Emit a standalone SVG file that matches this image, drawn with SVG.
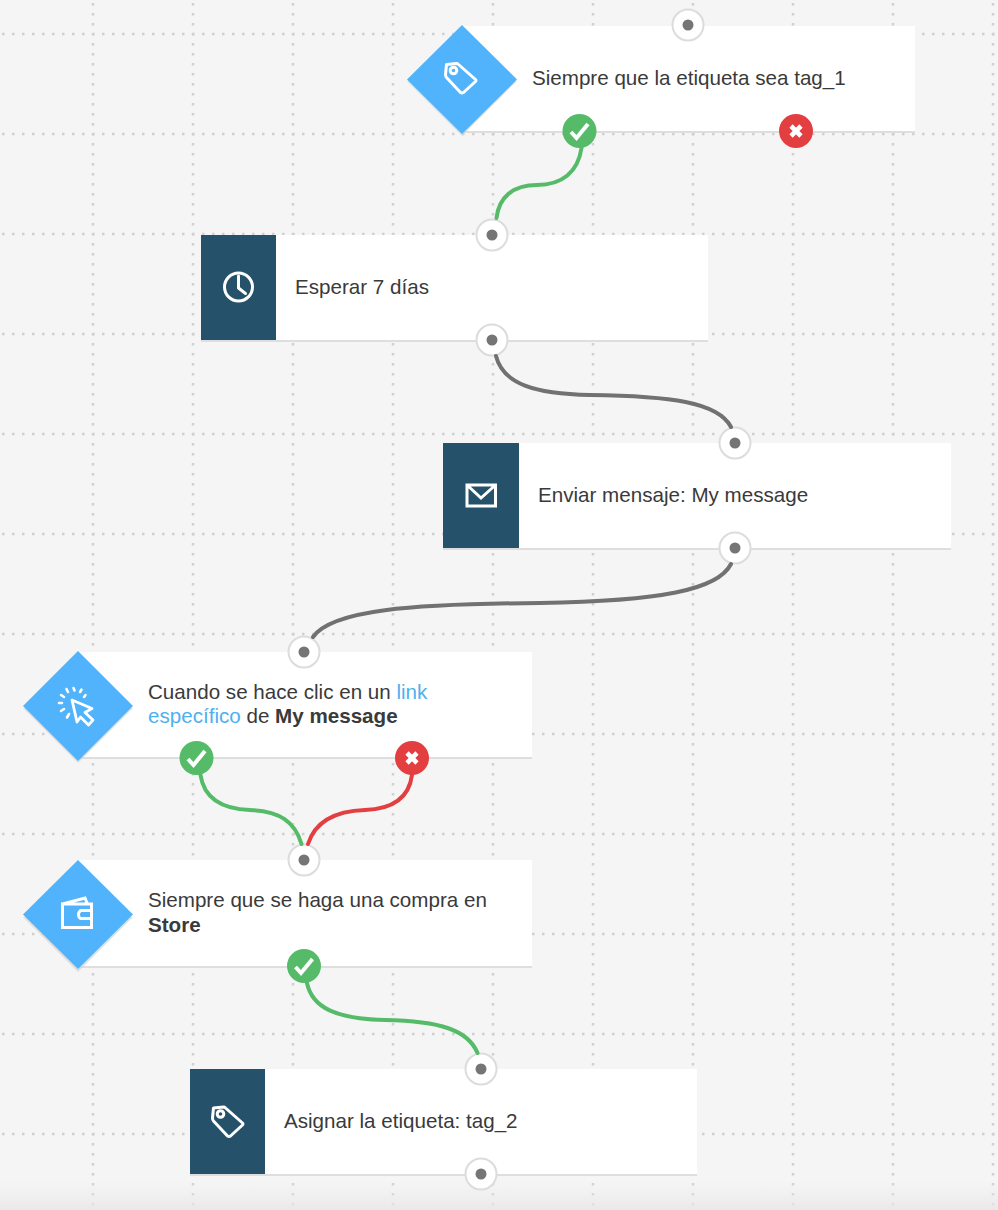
<svg xmlns="http://www.w3.org/2000/svg" width="998" height="1210" viewBox="0 0 998 1210">
<style>
text{font-family:"Liberation Sans",Arial,sans-serif;font-size:20.6px;fill:#3a3a3a}
.b{font-weight:700}
.l{fill:#4fb0ee}
.card{fill:#fff}
.edge{fill:#dedede}
.dark{fill:#25516b}
.dia{fill:#50b3fb}
.dsh{fill:#cfcfcf;opacity:.6}
.port{fill:#fff;stroke:#dcdcdc;stroke-width:2}
.dot{fill:#757575}
.ok{fill:#55bb69}
.no{fill:#e33e40}
.ic{fill:none;stroke:#fff;stroke-width:3;stroke-linejoin:round;stroke-linecap:round}
.mk{fill:none;stroke:#fff;stroke-width:4}
.gh{stroke:#d0d0d0;stroke-width:2.500;stroke-dasharray:2.500 7.500;fill:none}
.c{fill:none;stroke-width:4;stroke-linecap:round}
</style>
<defs>
<linearGradient id="fade" x1="0" y1="0" x2="0" y2="1"><stop offset="0" stop-color="#ececec" stop-opacity="0"/><stop offset="1" stop-color="#e6e6e6" stop-opacity=".8"/></linearGradient>
<g id="tag"><path class="ic" d="M-14 -14L-4 -15Q-3 -15 -2 -14L15 1Q16 2 15 3L3 14Q1.500 15 0 14L-14 -1Q-15 -2 -15 -4Z"/><circle class="ic" cx="-7" cy="-8" r="3.300"/></g>
<g id="okm"><path class="mk" d="M-8.500 1L-3 7L8.500 -7"/></g>
<g id="nom"><path class="mk" d="M-5 -5L5 5M5 -5L-5 5" style="stroke-width:4.600"/></g>
</defs>
<rect width="998" height="1210" fill="#f5f5f5"/>
<g id="grid">
<path class="gh" d="M2 34H998M2 134H998M2 234H998M2 334H998M2 434H998M2 534H998M2 634H998M2 734H998M2 834H998M2 934H998M2 1034H998M2 1134H998"/>
<path class="gh" d="M93 3V1210M193 3V1210M293 3V1210M393 3V1210M493 3V1210M593 3V1210M693 3V1210M793 3V1210M893 3V1210M993 3V1210"/>
</g>
<rect y="1180" width="998" height="30" fill="url(#fade)"/>
<g id="node-tag1">
<rect class="edge" x="462" y="28" width="453" height="105"/><rect class="card" x="462" y="26" width="453" height="105"/>
<path class="dsh" d="M407 81L462 136L517 81Z"/><path class="dia" d="M407 79.500L462 25L517 79.500L462 134Z"/>
<use href="#tag" x="460.500" y="78.500"/>
<text x="532" y="85">Siempre que la etiqueta sea tag_1</text>
<circle class="port" cx="688" cy="25" r="15.500"/><circle class="dot" cx="688" cy="25" r="5.500"/>
<circle class="ok" cx="579.500" cy="131" r="17"/><use href="#okm" x="579.500" y="131"/>
<circle class="no" cx="796" cy="131" r="17"/><use href="#nom" x="796" y="131"/>
</g>
<g id="node-wait">
<rect class="edge" x="201" y="237" width="507" height="105"/><rect class="card" x="201" y="235" width="507" height="105"/>
<rect class="dark" x="201" y="235" width="75" height="105"/>
<circle class="ic" cx="238.500" cy="287" r="14"/><path class="ic" d="M238.500 276V288L245.500 293.500"/>
<text x="295" y="294">Esperar 7 días</text>
<circle class="port" cx="492" cy="235" r="15.500"/><circle class="dot" cx="492" cy="235" r="5.500"/>
<circle class="port" cx="492" cy="340" r="15.500"/><circle class="dot" cx="492" cy="340" r="5.500"/>
</g>
<g id="node-send">
<rect class="edge" x="443" y="445" width="508" height="105"/><rect class="card" x="443" y="443" width="508" height="105"/>
<rect class="dark" x="443" y="443" width="76" height="105"/>
<path class="ic" style="stroke-linecap:butt;stroke-linejoin:miter" d="M467 485H495.500V506H467ZM467 485L481 498L495.500 485"/>
<text x="538" y="502">Enviar mensaje: My message</text>
<circle class="port" cx="735" cy="443" r="15.500"/><circle class="dot" cx="735" cy="443" r="5.500"/>
<circle class="port" cx="735" cy="548" r="15.500"/><circle class="dot" cx="735" cy="548" r="5.500"/>
</g>
<g id="node-click">
<rect class="edge" x="78" y="654" width="454" height="105"/><rect class="card" x="78" y="652" width="454" height="105"/>
<path class="dsh" d="M23 708L78 763L133 708Z"/><path class="dia" d="M23 706L78 651L133 706L78 761Z"/>
<path class="ic" style="stroke-width:2.800" d="M72 700L92 708.500L85 712.500L93 720L88.500 725L80.500 717L77 722Z"/>
<path class="ic" style="stroke-width:2.600" d="M74.500 690.500L73.500 688M68 692L66.500 689M64 697L61 695M62 703L59 703M64 709L61 711M69 714L67 717.500M80 692L81.500 689.500M84 697L85.500 695"/>
<text><tspan x="148" y="699">Cuando se hace clic en un </tspan><tspan class="l">link</tspan><tspan class="l" x="148" y="723">específico</tspan><tspan> de </tspan><tspan class="b">My message</tspan></text>
<circle class="port" cx="304" cy="652" r="15.500"/><circle class="dot" cx="304" cy="652" r="5.500"/>
<circle class="ok" cx="196.500" cy="758" r="17"/><use href="#okm" x="196.500" y="758"/>
<circle class="no" cx="412" cy="758" r="17"/><use href="#nom" x="412" y="758"/>
</g>
<g id="node-purchase">
<rect class="edge" x="78" y="862" width="454" height="106"/><rect class="card" x="78" y="860" width="454" height="106"/>
<path class="dsh" d="M23 917L78 972L133 917Z"/><path class="dia" d="M23 914.500L78 860L133 914.500L78 969Z"/>
<path class="ic" style="stroke-linejoin:miter;stroke-linecap:butt" d="M62.500 904H91.500V927.500H62.500ZM62.500 904L85 898L87.500 904M91.500 910.500H80.500Q78 913 78.500 915.500Q79 918 81 918.500H91.500"/>
<text><tspan x="148" y="907">Siempre que se haga una compra en</tspan><tspan class="b" x="148" y="932">Store</tspan></text>
<circle class="port" cx="304" cy="860" r="15.500"/><circle class="dot" cx="304" cy="860" r="5.500"/>
<circle class="ok" cx="304" cy="966" r="17"/><use href="#okm" x="304" y="966"/>
</g>
<g id="node-assign">
<rect class="edge" x="190" y="1071" width="507" height="105"/><rect class="card" x="190" y="1069" width="507" height="105"/>
<rect class="dark" x="190" y="1069" width="75" height="105"/>
<use href="#tag" x="227.500" y="1122"/>
<text x="284" y="1128">Asignar la etiqueta: tag_2</text>
<circle class="port" cx="481" cy="1069" r="15.500"/><circle class="dot" cx="481" cy="1069" r="5.500"/>
<circle class="port" cx="481" cy="1174" r="15.500"/><circle class="dot" cx="481" cy="1174" r="5.500"/>
</g>
<g id="connectors">
<path class="c" stroke="#55bb69" d="M581.500 148C578 172 562 185 537 185C513 185 499 197 496.500 218"/>
<path class="c" stroke="#717171" d="M496 356C503 384 535 394 590 395C670 396 718 402 731 427"/>
<path class="c" stroke="#717171" d="M731 564C718 590 660 601 540 603C410 604 332 610 313 637"/>
<path class="c" stroke="#55bb69" d="M200.500 775C204 798 222 809 250 810C280 811 295 822 301.500 844"/>
<path class="c" stroke="#e33e40" d="M412 775C409 798 392 809 365 810C335 811 315 822 308 844"/>
<path class="c" stroke="#55bb69" d="M307 983C312 1007 335 1019 385 1020C440 1021 468 1030 477.500 1053"/>
</g>
</svg>
